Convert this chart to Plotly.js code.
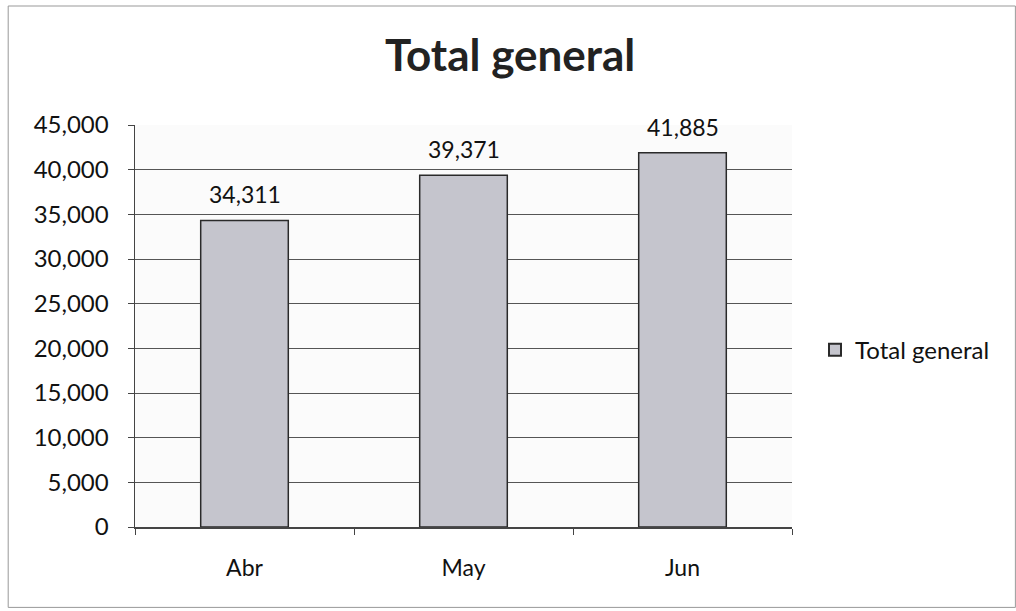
<!DOCTYPE html>
<html><head><meta charset="utf-8">
<script src="https://cdn.plot.ly/plotly-3.0.1.min.js"></script>
<style>body{margin:0;background:#fff}#c{width:1016px;height:611px}</style>
</head><body><div id="c"></div>
<script>
const months = ["Abr", "May", "Jun"];
const totals = [34311, 39371, 41885];
const seriesName = "Total general";
const labels = totals.map(v => v.toLocaleString("en-US"));

const font = "Lato, 'Open Sans', 'Noto Sans', sans-serif";
const trace = {
  type: "bar", x: months, y: totals, name: seriesName,
  marker: {color: "#c5c5cd", line: {color: "#2a2a2a", width: 1.5}},
  showlegend: true, hoverinfo: "none"
};
const annotations = months.map((m, i) => ({
  x: m, y: totals[i], text: labels[i], showarrow: false,
  yanchor: "bottom", yshift: 10, font: {family: font, size: 23, color: "#111"}
}));
const layout = {
  width: 1016, height: 611,
  margin: {l: 135, r: 224, t: 125, b: 84},
  paper_bgcolor: "#fff", plot_bgcolor: "#fbfbfb",
  title: {text: "<b>Total general</b>", x: 0.502, xanchor: "center", y: 0.935, yanchor: "top",
          font: {family: font, size: 44, color: "#222"}},
  bargap: 0.6,
  xaxis: {showline: true, linecolor: "#444", linewidth: 1.5, ticks: "outside", tickson: "boundaries",
          ticklen: 6, tickcolor: "#444", tickfont: {family: font, size: 23, color: "#111"},
          ticklabelstandoff: 20, showgrid: false, fixedrange: true},
  yaxis: {range: [0, 45000], dtick: 5000, tickformat: ",d", showline: true, linecolor: "#444", linewidth: 1.5,
          ticks: "outside", ticklen: 6, tickcolor: "#444", gridcolor: "#555", gridwidth: 1,
          ticklabelstandoff: 14, tickfont: {family: font, size: 24, color: "#111"}, zeroline: false},
  legend: {x: 1.035, y: 0.44, xanchor: "left", yanchor: "middle", font: {family: font, size: 24, color: "#111"},
           itemsizing: "constant"},
  annotations: annotations,
  shapes: [{type: "rect", xref: "paper", yref: "paper", x0: -0.193, x1: 1.34, y0: -0.2, y1: 1.296,
            line: {color: "#999", width: 1}}]
};
Plotly.newPlot("c", [trace], layout, {staticPlot: true});
</script></body></html>
